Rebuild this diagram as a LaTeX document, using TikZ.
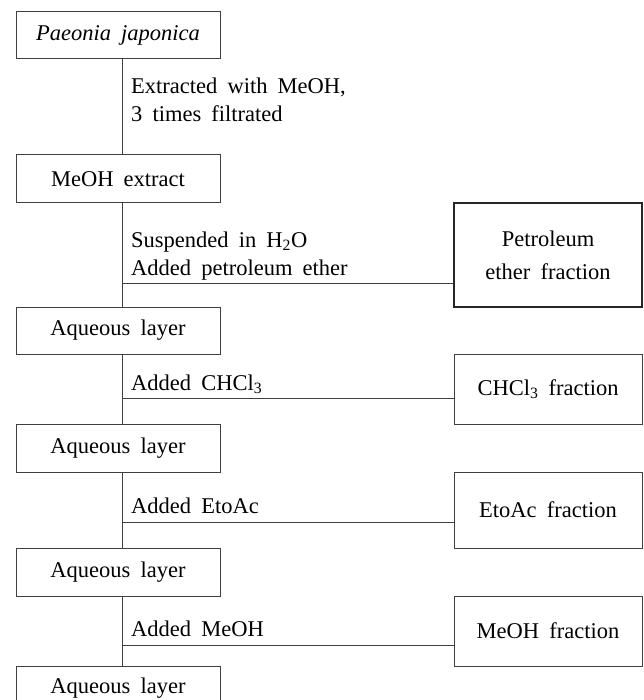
\documentclass[tikz,border=0pt]{standalone}
\usepackage{fontspec}
\setmainfont{Liberation Serif}[WordSpace=1.8]
\newcommand\fsz{\fontsize{22.5}{28}\selectfont}
\begin{document}
\begin{tikzpicture}[x=1pt,y=-1pt,
  ln/.style={draw=black!75, line width=1pt},
  lbox/.style={draw=black!75, line width=1pt, minimum width=204pt, inner sep=0pt, font=\fsz},
  rbox/.style={draw=black!75, line width=1pt, minimum width=188pt, inner sep=0pt, font=\fsz, align=center},
  lab/.style={anchor=base west, inner sep=0pt, font=\fsz, align=left}]
\useasboundingbox (0,0) rectangle (643,700);
\clip (0,0) rectangle (643,700);
% left column
\node[lbox, minimum height=47pt] (b1) at (118,35.5) {\textit{Paeonia japonica}};
\node[lbox, minimum height=48pt] (b2) at (118,179) {MeOH extract};
\node[lbox, minimum height=47pt] (a1) at (118,330.5) {Aqueous layer};
\node[lbox, minimum height=48pt] (a2) at (118,448) {Aqueous layer};
\node[lbox, minimum height=48pt] (a3) at (118,572) {Aqueous layer};
\node[lbox, minimum height=44pt] (a4) at (118,688) {Aqueous layer};
% right column
\node[rbox, minimum height=104pt, line width=2pt, draw=black!85, font=\fontsize{22.5}{33}\selectfont] (pf) at (548,255) {Petroleum\\ether fraction};
\node[rbox, minimum height=70pt] (cf) at (548,389) {CHCl\textsubscript{3} fraction};
\node[rbox, minimum height=76pt] (ef) at (548,510) {EtoAc fraction};
\node[rbox, minimum height=70pt] (mf) at (548,631) {MeOH fraction};
% labels (anchor = baseline of last line)
\node[lab] (t1) at (131,122) {Extracted with MeOH,\\3 times filtrated};
\node[lab] (t2) at (131,275) {Suspended in H\textsubscript{2}O\\Added petroleum ether};
\node[lab] (t3) at (131,390) {Added CHCl\textsubscript{3}};
\node[lab] (t4) at (131,513) {Added EtoAc};
\node[lab] (t5) at (131,636) {Added MeOH};
% spine and junctions
\coordinate (sp) at (122,0);
\coordinate (j1) at (122,283);
\coordinate (j2) at (122,398);
\coordinate (j3) at (122,522);
\coordinate (j4) at (122,645);
\draw[ln] (b1.south -| sp) -- (b2.north -| sp);
\draw[ln] (b2.south -| sp) -- (a1.north -| sp);
\draw[ln] (a1.south -| sp) -- (a2.north -| sp);
\draw[ln] (a2.south -| sp) -- (a3.north -| sp);
\draw[ln] (a3.south -| sp) -- (a4.north -| sp);
\draw[ln] (j1) -- (j1 -| pf.west);
\draw[ln] (j2) -- (j2 -| cf.west);
\draw[ln] (j3) -- (j3 -| ef.west);
\draw[ln] (j4) -- (j4 -| mf.west);
\end{tikzpicture}
\end{document}
